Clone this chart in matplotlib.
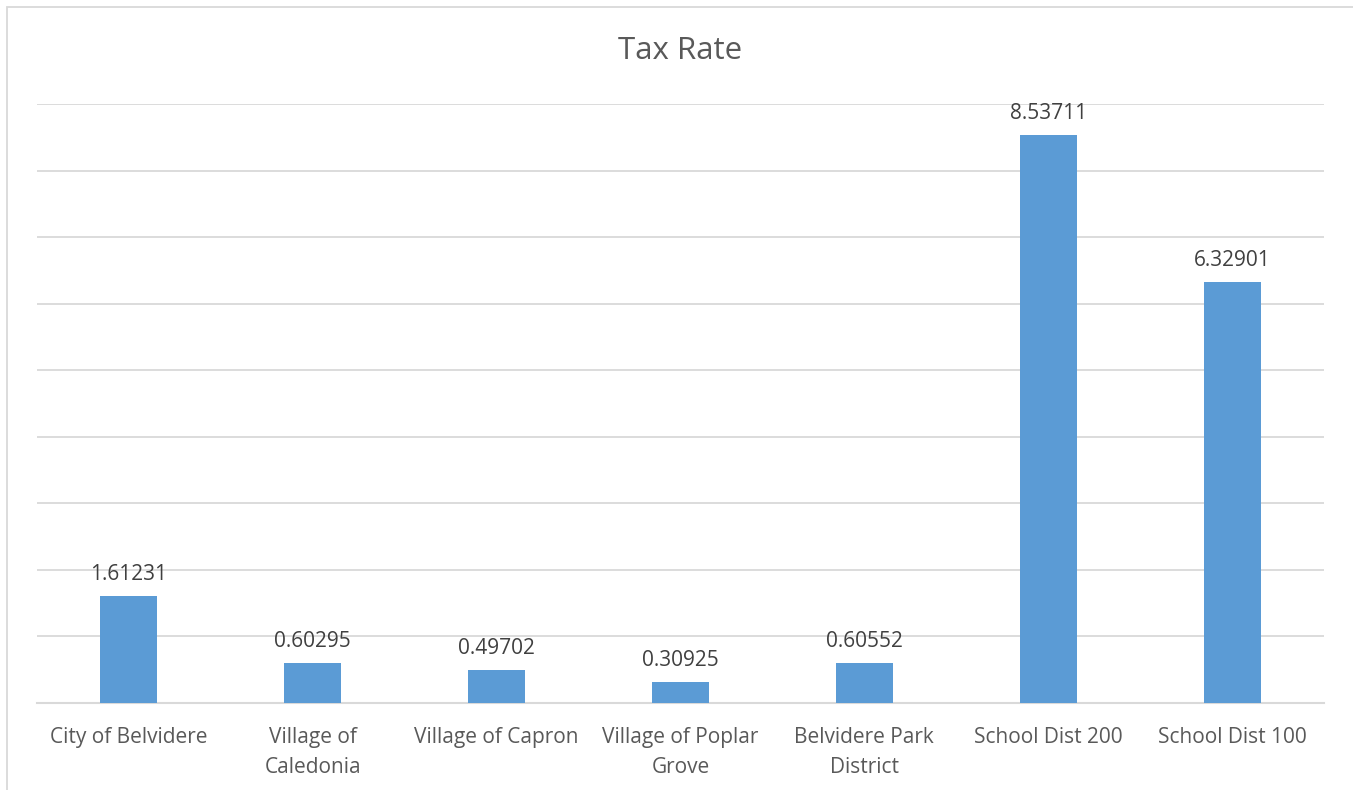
import matplotlib.pyplot as plt
from matplotlib.patches import Rectangle

categories = ['City of Belvidere', 'Village of\nCaledonia', 'Village of Capron',
              'Village of Poplar\nGrove', 'Belvidere Park\nDistrict',
              'School Dist 200', 'School Dist 100']
rates = [1.61231, 0.60295, 0.49702, 0.30925, 0.60552, 8.53711, 6.32901]
labels = ['1.61231', '0.60295', '0.49702', '0.30925', '0.60552', '8.53711', '6.32901']

text_color = '#595959'
plt.rcParams['font.family'] = ['Open Sans', 'DejaVu Sans']

fig = plt.figure(figsize=(13.53, 7.90), dpi=100)
ax = fig.add_axes([37/1353, 87/790, 1287/1353, 599/790])

x = range(len(categories))
ax.bar(x, rates, width=0.31, color='#5B9BD5', zorder=3)
for i, v in enumerate(rates):
    ax.annotate(labels[i], (i, v), xytext=(0, 8), textcoords='offset points',
                ha='center', va='bottom', fontsize=15, color='#404040')

ax.set_xlim(-0.5, len(categories) - 0.5)
ax.set_ylim(0, 9)
ax.set_yticks(range(0, 10))
ax.set_yticklabels([])
ax.tick_params(axis='y', length=0)
ax.tick_params(axis='x', length=0, pad=17)
ax.set_xticks(list(x))
ax.set_xticklabels(categories, fontsize=15, color=text_color, linespacing=1.6)
ax.grid(axis='y', color='#d9d9d9', linewidth=1.3, zorder=0)
for s in ['top', 'right', 'left']:
    ax.spines[s].set_visible(False)
ax.spines['bottom'].set_color('#d9d9d9')
ax.spines['bottom'].set_linewidth(1.5)

fig.text(680/1353, 1 - 51/790, 'Tax Rate', ha='center', va='center',
         fontsize=22.5, color=text_color)

fig.patches.append(Rectangle((7/1353, -0.05), 1.1, 1 - 7/790 + 0.05,
                             transform=fig.transFigure, fill=False,
                             edgecolor='#d9d9d9', linewidth=1.3))

fig.savefig('out.png', dpi=100)
